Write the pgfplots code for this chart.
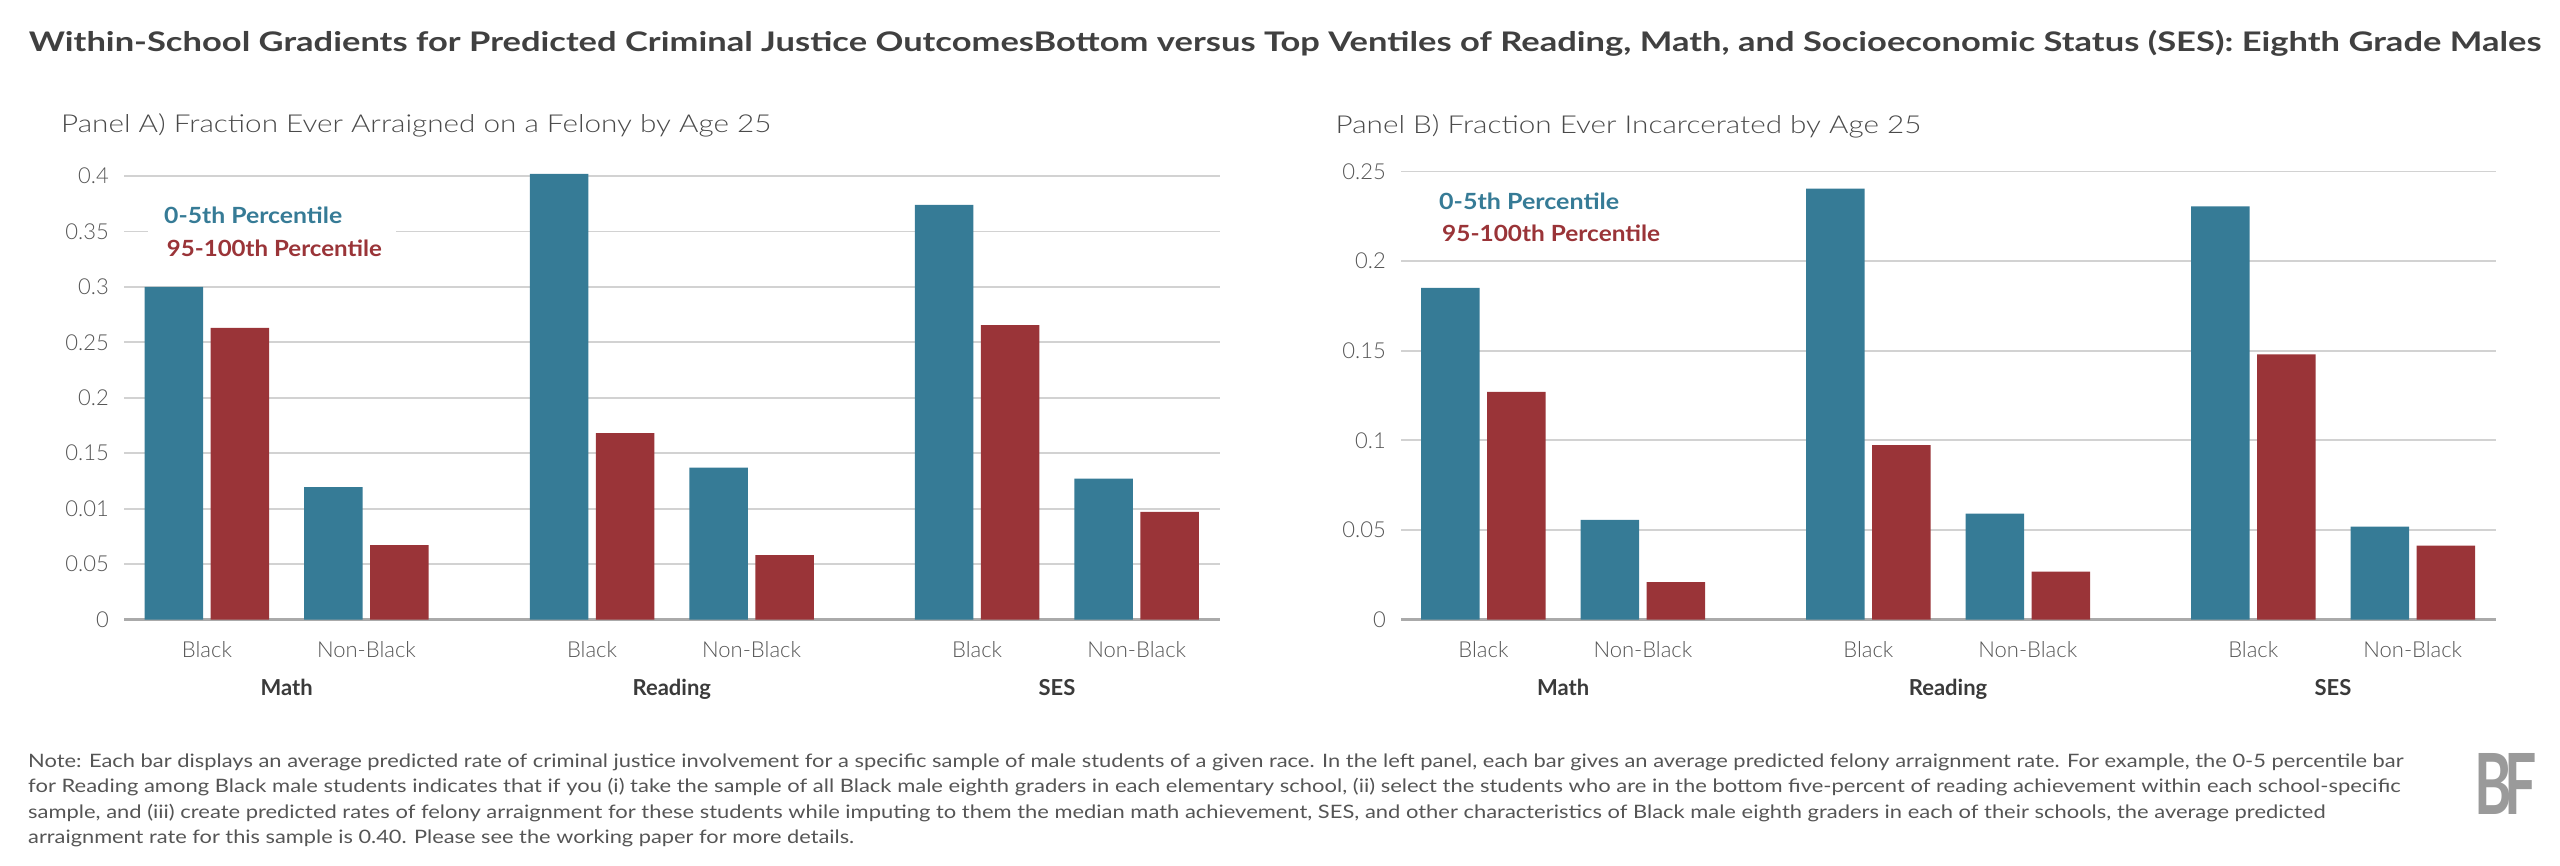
\documentclass[border=0pt]{standalone}
\usepackage{fontspec}
\setmainfont{Lato}
\newfontfamily\lightfont{Lato Light}
\usepackage{graphicx}
\usepackage{pgfplots}
\pgfplotsset{compat=1.18}

\definecolor{cblue}{HTML}{367B96}
\definecolor{cred}{HTML}{9A3438}
\definecolor{cgrid}{HTML}{D2D2D2}
\definecolor{cbase}{HTML}{AAAAAA}
\definecolor{ctick}{HTML}{555555}
\definecolor{cpanel}{HTML}{4A4A4A}
\definecolor{cnote}{HTML}{555555}
\definecolor{ctitle}{HTML}{404040}
\definecolor{cgroup}{HTML}{3A3A3A}
\definecolor{clogo}{HTML}{9A9A9A}

\newlength\fitlen
\newcommand\fitx[2]{\settowidth\fitlen{#2}\pgfmathsetmacro\fitscale{#1/\fitlen}\scalebox{\fitscale}[1]{#2}}

\pgfplotsset{
  mybars/.style={
    scale only axis,
    ybar=7.5pt, bar width=58.5pt,
    ymin=0,
    clip=false,
    axis x line*=bottom, axis y line*=left,
    y axis line style={draw=none},
    x axis line style={draw=cbase, line width=2.2pt, -},
    major tick length=0pt, tick style={draw=none},
    ymajorgrids, grid style={cgrid, line width=1.8pt},
    xtick={0,1,2.414,3.414,4.828,5.828},
    xticklabels={Black,Non-Black,Black,Non-Black,Black,Non-Black},
    xticklabel style={anchor=base, yshift=-38pt, font=\lightfont\fontsize{22}{26}\selectfont, text=ctick},
    yticklabel style={anchor=east, inner sep=0pt, xshift=-15pt, font=\lightfont\fontsize{22}{26}\selectfont, text=ctick},
  }
}

\begin{document}
\begin{tikzpicture}[x=1pt,y=1pt]
\path[use as bounding box] (0,0) rectangle (2560,-866);

% main title
\node[anchor=base west, inner sep=0pt, text=ctitle, font=\fontsize{27}{32}\selectfont\bfseries] at (28.6,-51.7)
  {\fitx{2512}{Within-School Gradients for Predicted Criminal Justice OutcomesBottom versus Top Ventiles of Reading, Math, and Socioeconomic Status (SES): Eighth Grade Males}};

% panel titles
\node[anchor=base west, inner sep=0pt, text=cpanel, font=\lightfont\fontsize{24.7}{29}\selectfont] at (61,-133)
  {\fitx{710}{Panel A) Fraction Ever Arraigned on a Felony by Age 25}};
\node[anchor=base west, inner sep=0pt, text=cpanel, font=\lightfont\fontsize{24.7}{29}\selectfont] at (1335.5,-134)
  {\fitx{585.5}{Panel B) Fraction Ever Incarcerated by Age 25}};

% Panel A
\begin{axis}[mybars,
  at={(124pt,-619.5pt)}, anchor=south west,
  width=1096pt, height=443.5pt,
  xmin=-0.52, xmax=6.35, ymax=0.4,
  ytick={0,0.05,0.1,0.15,0.2,0.25,0.3,0.35,0.4},
  yticklabels={0,0.05,0.01,0.15,0.2,0.25,0.3,0.35,0.4},
]
\addplot[fill=cblue, draw=none] coordinates {(0,0.300) (1,0.1195) (2.414,0.402) (3.414,0.137) (4.828,0.374) (5.828,0.127)};
\addplot[fill=cred, draw=none] coordinates {(0,0.263) (1,0.067) (2.414,0.168) (3.414,0.058) (4.828,0.2655) (5.828,0.097)};
\node[anchor=base, yshift=-76pt, font=\fontsize{22}{26}\selectfont\bfseries, text=cgroup] at (axis cs:0.5,0) {Math};
\node[anchor=base, yshift=-76pt, font=\fontsize{22}{26}\selectfont\bfseries, text=cgroup] at (axis cs:2.914,0) {Reading};
\node[anchor=base, yshift=-76pt, font=\fontsize{22}{26}\selectfont\bfseries, text=cgroup] at (axis cs:5.328,0) {SES};
\end{axis}

% Panel B
\begin{axis}[mybars,
  at={(1401pt,-619.5pt)}, anchor=south west,
  width=1095pt, height=448pt,
  xmin=-0.517, xmax=6.35, ymax=0.25,
  ytick={0,0.05,0.1,0.15,0.2,0.25},
  yticklabels={0,0.05,0.1,0.15,0.2,0.25},
]
\addplot[fill=cblue, draw=none] coordinates {(0,0.185) (1,0.0556) (2.414,0.2405) (3.414,0.0591) (4.828,0.2306) (5.828,0.0518)};
\addplot[fill=cred, draw=none] coordinates {(0,0.127) (1,0.0209) (2.414,0.0973) (3.414,0.0267) (4.828,0.148) (5.828,0.0412)};
\node[anchor=base, yshift=-76pt, font=\fontsize{22}{26}\selectfont\bfseries, text=cgroup] at (axis cs:0.5,0) {Math};
\node[anchor=base, yshift=-76pt, font=\fontsize{22}{26}\selectfont\bfseries, text=cgroup] at (axis cs:2.914,0) {Reading};
\node[anchor=base, yshift=-76pt, font=\fontsize{22}{26}\selectfont\bfseries, text=cgroup] at (axis cs:5.328,0) {SES};
\end{axis}

% legend A
\fill[white] (148,-191) rectangle (396,-270);
\node[anchor=base west, inner sep=0pt, text=cblue, font=\fontsize{22.3}{26}\selectfont\bfseries] at (164,-223.3) {\fitx{178}{0-5th Percentile}};
\node[anchor=base west, inner sep=0pt, text=cred, font=\fontsize{22.3}{26}\selectfont\bfseries] at (166.7,-256.7) {\fitx{215}{95-100th Percentile}};
% legend B
\node[anchor=base west, inner sep=0pt, text=cblue, font=\fontsize{22.3}{26}\selectfont\bfseries] at (1439,-209.7) {\fitx{180}{0-5th Percentile}};
\node[anchor=base west, inner sep=0pt, text=cred, font=\fontsize{22.3}{26}\selectfont\bfseries] at (1442,-242) {\fitx{218}{95-100th Percentile}};

% footnote
\begin{scope}[every node/.style={anchor=base west, inner sep=0pt, text=cnote, font=\fontsize{18.5}{22}\selectfont}]
\node at (28,-767) {\fitx{2375}{Note: Each bar displays an average predicted rate of criminal justice involvement for a specific sample of male students of a given race. In the left panel, each bar gives an average predicted felony arraignment rate. For example, the 0-5 percentile bar}};
\node at (28,-792.5) {\fitx{2372}{for Reading among Black male students indicates that if you (i) take the sample of all Black male eighth graders in each elementary school, (ii) select the students who are in the bottom five-percent of reading achievement within each school-specific}};
\node at (28,-818) {\fitx{2297}{sample, and (iii) create predicted rates of felony arraignment for these students while imputing to them the median math achievement, SES, and other characteristics of Black male eighth graders in each of their schools, the average predicted}};
\node at (28,-843.5) {\fitx{826}{arraignment rate for this sample is 0.40. Please see the working paper for more details.}};
\end{scope}

% logo
\node[inner sep=0pt, text=clogo] at (2505.5,-783.5) {\resizebox{63pt}{61pt}{\bfseries B\kern-0.12em F}};
\end{tikzpicture}
\end{document}
